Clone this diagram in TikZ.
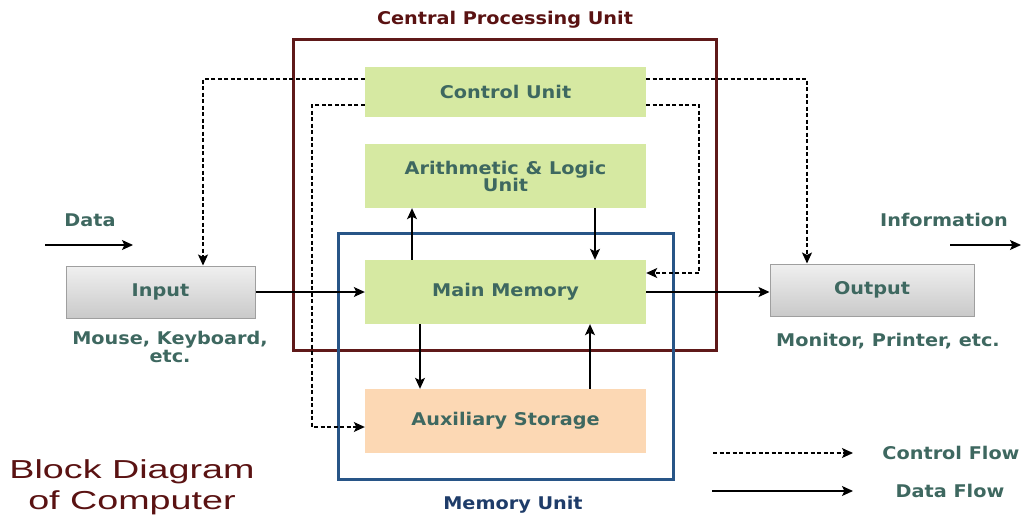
\documentclass[tikz,border=0pt]{standalone}
\usepackage{fontspec}
\setmainfont{DejaVu Sans}
\newfontfamily\labfont[FakeStretch=1.1]{DejaVu Sans}
\newfontfamily\bigfont[FakeStretch=1.45]{Liberation Sans}
\usetikzlibrary{arrows.meta,calc}
\definecolor{labtext}{RGB}{62,104,96}
\definecolor{greenbox}{RGB}{214,233,162}
\definecolor{peachbox}{RGB}{252,216,180}
\definecolor{cpured}{RGB}{95,25,25}
\definecolor{memblue}{RGB}{40,85,135}
\definecolor{memtext}{RGB}{30,60,105}
\definecolor{titlered}{RGB}{90,18,18}
\tikzset{
  lab/.style={font=\labfont\bfseries\fontsize{17.5}{20}\selectfont, text=labtext, inner sep=0pt, align=center},
  unitbox/.style={lab, minimum width=281pt, draw=none},
  grayblock/.style={lab, minimum width=189pt, minimum height=52pt, draw=gray!75, line width=1pt, top color=gray!12, bottom color=gray!42},
  frame/.style={draw, line width=3pt, inner sep=0pt, fill=none},
  tip/.style={-{Stealth[length=11pt,width=10pt,inset=2.5pt]}},
  data/.style={tip, line width=1.2pt, black},
  ctrl/.style={tip, line width=1.2pt, black, dash pattern=on 4pt off 2.5pt},
}
\begin{document}
\begin{tikzpicture}[x=1pt,y=-1pt]
\useasboundingbox (0,0) rectangle (1023,519);
% frames
\node[frame, draw=cpured, minimum width=423pt, minimum height=310pt] (cpu) at (504.5,195) {};
\node[frame, draw=memblue, minimum width=335pt, minimum height=246pt] (mu) at (505.5,356) {};
% titles
\node[lab, text=titlered] (cputitle) at (505,20) {Central Processing Unit};
\node[lab, text=memtext] (mutitle) at (513,505) {Memory Unit};
% unit boxes
\node[unitbox, fill=greenbox, minimum height=50pt] (cu) at (505.5,92) {Control Unit};
\node[unitbox, fill=greenbox, minimum height=64pt] (alu) at (505.5,176) {Arithmetic \& Logic\\[-3pt]Unit};
\node[unitbox, fill=greenbox, minimum height=64pt] (mm) at (505.5,292) {Main Memory};
\node[unitbox, fill=peachbox, minimum height=64pt] (aux) at (505.5,421) {Auxiliary Storage};
% input / output
\node[grayblock] (in) at (160.5,292) {Input};
\node[grayblock, minimum width=204pt] (out) at (872,290) {Output};
\node[lab] (inlab) at (170,347) {Mouse, Keyboard,\\[-2pt]etc.};
\node[lab] (outlab) at (888,341) {Monitor, Printer, etc.};
\node[lab] (datalab) at (90,220) {Data};
\node[lab] (infolab) at (944,220) {Information};
% data arrows outside
\coordinate (d1) at (45,245);
\coordinate (d2) at (133,245);
\coordinate (i1) at (950,245);
\coordinate (i2) at (1021,245);
\draw[data] (d1) -- (d2);
\draw[data] (i1) -- (i2);
% data flow
\draw[data] (in.east) -- (mm.west);
\draw[data] (mm.east) -- (mm.east -| out.west);
\draw[data] ([xshift=-93.5pt]mm.north) -- ([xshift=-93.5pt]alu.south);
\draw[data] ([xshift=89.5pt]alu.south) -- ([xshift=89.5pt]mm.north);
\draw[data] ([xshift=-85.5pt]mm.south) -- ([xshift=-85.5pt]aux.north);
\draw[data] ([xshift=84.5pt]aux.north) -- ([xshift=84.5pt]mm.south);
% control flow
\draw[ctrl] ($(cu.west)+(0,-13)$) -| ([xshift=42.5pt]in.north);
\draw[ctrl] ($(cu.east)+(0,-13)$) -| ([xshift=-65pt]out.north);
\coordinate (cl) at (312,105);
\coordinate (cl2) at (312,427);
\draw[ctrl] ($(cu.west)+(0,13)$) -- (cl) -- (cl2) -- (cl2 -| aux.west);
\coordinate (cr) at (699,105);
\coordinate (cr2) at (699,273);
\draw[ctrl] ($(cu.east)+(0,13)$) -- (cr) -- (cr2) -- (cr2 -| mm.east);
% legend
\coordinate (l1) at (713,453);
\coordinate (l2) at (853,453);
\coordinate (l3) at (712,491);
\coordinate (l4) at (853,491);
\draw[ctrl] (l1) -- (l2);
\draw[data] (l3) -- (l4);
\node[lab] (cflab) at (951,453) {Control Flow};
\node[lab] (dflab) at (950,491) {Data Flow};
% big title
\node[font=\bigfont\fontsize{26}{31}\selectfont, text=titlered, align=center, inner sep=0pt] (bt) at (132,487) {Block Diagram\\of Computer};
\end{tikzpicture}
\end{document}
